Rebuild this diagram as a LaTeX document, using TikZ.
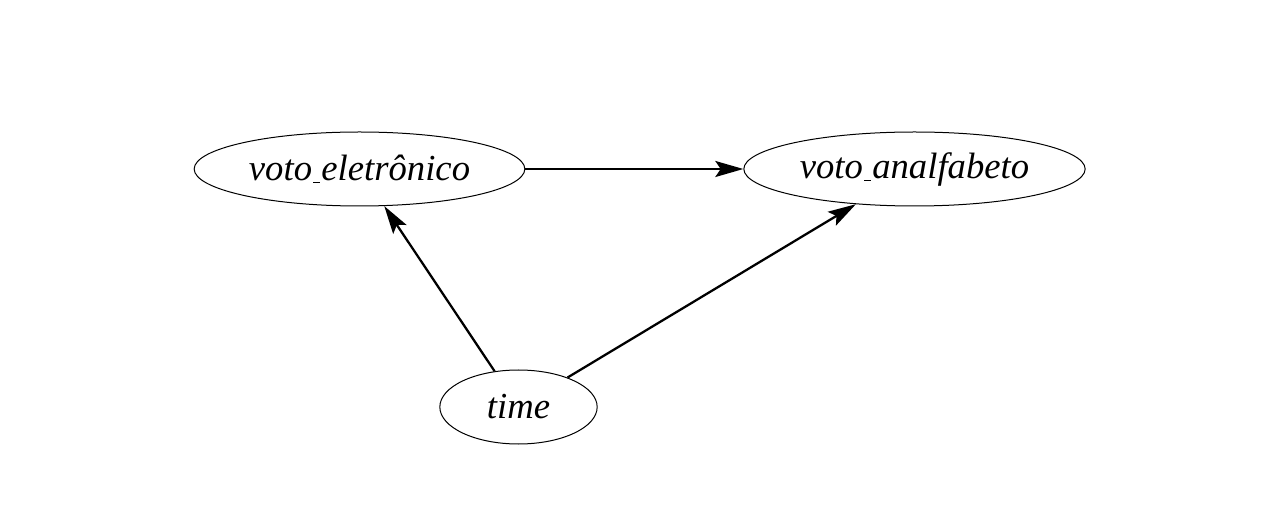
\documentclass[tikz,border=0pt]{standalone}
\usepackage{fontspec}
\setmainfont{Liberation Serif}
\usetikzlibrary{arrows.meta, shapes.geometric}
\newcommand{\us}{\kern0.8pt\rule[-2pt]{5pt}{0.75pt}\kern1.2pt}

\begin{document}
\begin{tikzpicture}[x=0.75pt, y=-0.75pt,
    var/.style={ellipse, draw, line width=0.75pt, inner sep=0pt, minimum height=55.5pt,
        font=\fontsize{27.5}{32}\selectfont\itshape},
    edge/.style={line width=1.7pt, -{Stealth[length=21pt, width=12pt, inset=4pt]}}]
    \useasboundingbox (0,0) rectangle (1280,523);
    % variables
    \node[var, minimum width=248pt] (eletr) at (359.5,169) {voto\us eletrônico};
    \node[var, minimum width=256pt] (analf) at (914.5,169) {voto\us analfabeto};
    \node[var, minimum width=118pt] (time) at (518.5,407) {time};
    % connectors
    \draw[edge] (eletr) -- (analf);
    \draw[edge] (time) -- (eletr);
    \draw[edge] (time) -- (analf);
\end{tikzpicture}
\end{document}
